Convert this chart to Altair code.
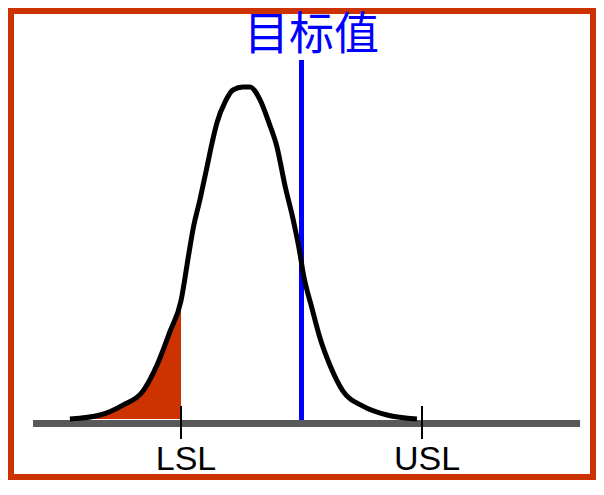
import altair as alt
import pandas as pd

# Values
curve_x = [5.39, 6.64, 7.59, 8.42, 9.00, 9.54, 10.00, 10.33, 10.50, 10.79, 11.08,
           11.29, 11.49, 11.83, 12.16, 12.57, 12.86, 13.28, 13.65, 13.98, 14.32,
           14.65, 14.94, 15.06, 15.44, 15.77, 16.18, 16.72, 17.55, 18.55, 19.79]
curve_y = [0.000, 0.012, 0.042, 0.084, 0.162, 0.263, 0.356, 0.500, 0.572, 0.662, 0.760,
           0.832, 0.892, 0.955, 0.991, 1.000, 1.000, 0.961, 0.892, 0.820, 0.701,
           0.602, 0.497, 0.443, 0.332, 0.243, 0.162, 0.084, 0.039, 0.012, 0.000]

spec_names = ["LSL", "USL"]
spec_values = [10, 20]
target_value = 15
target_label = "目标值"

BORDER = "#CC3300"

curve = pd.DataFrame({"x": curve_x, "y": curve_y})
tail = curve[curve["x"] <= spec_values[0]]
specs = pd.DataFrame({"name": spec_names, "x": spec_values})

xs = alt.Scale(domain=[2.946, 27.095], nice=False, zero=False)
ys = alt.Scale(domain=[-0.1747, 1.2289], nice=False, zero=False)

fill = alt.Chart(tail).mark_area(color=BORDER, opacity=1, interpolate="monotone").encode(
    x=alt.X("x:Q", scale=xs, axis=None),
    y=alt.Y("y:Q", scale=ys, axis=None),
    y2=alt.datum(0),
)

axis_line = alt.Chart(pd.DataFrame({"a": [3.86], "b": [26.56]})).mark_rule(
    color="#595959", strokeWidth=7
).encode(
    x=alt.X("a:Q", scale=xs, axis=None),
    x2="b:Q",
    y=alt.YDatum(-0.0136, scale=ys, axis=None),
)

ticks = alt.Chart(specs).mark_rule(color="black", strokeWidth=2).encode(
    x=alt.X("x:Q", scale=xs, axis=None),
    y=alt.YDatum(0.0392, scale=ys, axis=None),
    y2=alt.datum(-0.0602),
)

target_line = alt.Chart(pd.DataFrame({"x": [target_value]})).mark_rule(
    color="#0000FF", strokeWidth=5
).encode(
    x=alt.X("x:Q", scale=xs, axis=None),
    y=alt.YDatum(-0.003, scale=ys, axis=None),
    y2=alt.datum(1.0813),
)

line = alt.Chart(curve).mark_line(color="black", strokeWidth=5, interpolate="monotone").encode(
    x=alt.X("x:Q", scale=xs, axis=None),
    y=alt.Y("y:Q", scale=ys, axis=None),
)

labels = alt.Chart(specs).mark_text(
    font="Liberation Sans", fontSize=34, color="black", align="center",
    baseline="alphabetic", dx=5,
).encode(
    x=alt.X("x:Q", scale=xs, axis=None),
    y=alt.YDatum(-0.1536, scale=ys, axis=None),
    text="name:N",
)

title = alt.Chart(pd.DataFrame({"x": [target_value], "t": [target_label]})).mark_text(
    font="DejaVu Sans, Noto Sans CJK SC", fontSize=45, color="#0000FF", align="center",
    baseline="alphabetic", dx=10,
).encode(
    x=alt.X("x:Q", scale=xs, axis=None),
    y=alt.YDatum(1.11, scale=ys, axis=None),
    text="t:N",
)

chart = alt.layer(fill, axis_line, ticks, target_line, line, labels, title).properties(
    width=582, height=466,
    autosize=alt.AutoSizeParams(type="none"),
    padding={"left": 3, "top": 3, "right": 3, "bottom": 3},
).configure_view(stroke=BORDER, strokeWidth=6)

chart.save("out.html", embed_options={"renderer": "svg", "actions": False})
